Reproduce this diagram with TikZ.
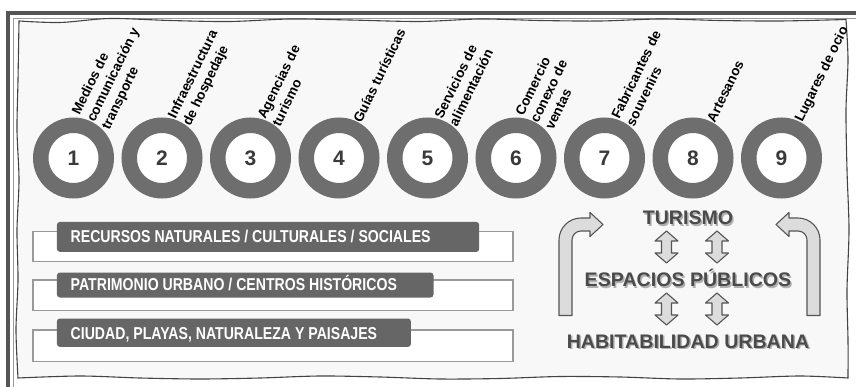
\documentclass[tikz,border=0pt]{standalone}
\usepackage{fontspec}
\setmainfont{Liberation Sans}
\newfontfamily\narrowsf[FakeStretch=0.82]{Liberation Sans}
\definecolor{ringgray}{HTML}{6E6E6E}
\definecolor{numgray}{HTML}{3A3A3A}
\definecolor{barfill}{HTML}{666666}
\definecolor{rectline}{HTML}{9A9A9A}
\definecolor{arrowfill}{HTML}{DCDCDC}
\definecolor{arrowline}{HTML}{555555}
\definecolor{framegray}{HTML}{555555}
\definecolor{thinframe}{HTML}{9A9A9A}
\definecolor{wavyline}{HTML}{444444}
\definecolor{bgfill}{HTML}{F8F8F8}
\definecolor{bigtextgray}{HTML}{4A4A4A}
\definecolor{shadowgray}{HTML}{B0B0B0}
\begin{document}
\begin{tikzpicture}[x=1pt,y=-1pt,
  ringnode/.style={circle, draw=ringgray, line width=15.5pt, fill=white, minimum size=65.5pt, inner sep=0pt, text=numgray, font=\bfseries\fontsize{21}{21}\selectfont},
  labeltext/.style={anchor=west, rotate=64, inner sep=0pt, align=left, text=black, font=\bfseries\fontsize{13.6}{16.5}\selectfont},
  outlinebox/.style={draw=rectline, fill=white, line width=1.2pt, inner sep=0pt, anchor=north west},
  barbox/.style={fill=barfill, rounded corners=3pt, inner sep=0pt, anchor=north west},
  bartext/.style={anchor=base west, inner sep=0pt, text=white, font=\narrowsf\bfseries\fontsize{17.2}{20}\selectfont},
  bigtext/.style={anchor=base, inner sep=0pt, text=bigtextgray, font=\bfseries\fontsize{19.6}{22}\selectfont},
  bigshadow/.style={bigtext, text=shadowgray},
  blockarrow/.style={fill=arrowfill, draw=arrowline, line width=1.1pt, line join=round},
  dblarrow/.pic={\filldraw[blockarrow] (0,-16) -- (11.5,-6) -- (5,-6) -- (5,6) -- (11.5,6) -- (0,16) -- (-11.5,6) -- (-5,6) -- (-5,-6) -- (-11.5,-6) -- cycle;},
  bentarrow/.pic={\filldraw[blockarrow] (559,315.5) -- (559,240) .. controls (559,227.9) and (568.9,218) .. (581,218) -- (590,218) -- (590,212.5) -- (603,224.5) -- (590,236.5) -- (590,231) -- (581,231) .. controls (576,231) and (572,235) .. (572,240) -- (572,315.5) -- cycle;}
]
\useasboundingbox (0,0) rectangle (856,387);
\fill[white] (0,0) rectangle (856,387);
% outer frame
\draw[line width=4pt, framegray] (8,392) -- (8,13) -- (862,13);
\draw[line width=0.8pt, thinframe] (13,392) -- (13,18) -- (862,18);
% wavy panel
\filldraw[fill=bgfill, draw=wavyline, line width=1.1pt]
  plot[smooth, tension=0.5] coordinates {(19,21) (60,22.5) (110,18.5) (170,20.5) (230,21.5) (290,19) (350,20) (420,21.5) (480,19) (540,20.5) (600,21) (660,19) (720,20.5) (780,21) (846,19.5)}
  -- plot[smooth, tension=0.5] coordinates {(846,19.5) (848,60) (846,110) (847,170) (849,230) (847,290) (848,340) (848,378)}
  -- plot[smooth, tension=0.5] coordinates {(848,378) (800,376) (740,378) (680,379) (620,377) (560,376.5) (500,378.5) (440,379) (380,377) (320,376) (260,378) (200,379) (140,378) (80,376) (18,378)}
  -- plot[smooth, tension=0.5] coordinates {(18,378) (16,330) (18,280) (17,230) (19,180) (17,130) (18,80) (19,21)}
  -- cycle;
% circles and labels
\foreach \i/\lab in {1/{Medios de\\comunicación y\\transporte}, 2/{Infraestructura\\de hospedaje}, 3/{Agencias de\\turismo}, 4/{Guías turísticas}, 5/{Servicios de\\alimentación}, 6/{Comercio\\conexo de\\ventas}, 7/{Fabricantes de\\souvenirs}, 8/{Artesanos}, 9/{Lugares de ocio}}{
  \pgfmathsetmacro\cx{73.5+88.5*(\i-1)}
  \node[ringnode] (c\i) at (\cx,158) {\i};
  \node[labeltext] (l\i) at (c\i.64) {\lab};
}
% bars
\node[outlinebox, minimum width=480pt, minimum height=30.3pt] (r1) at (32.3,230.7) {};
\node[barbox, minimum width=422.3pt, minimum height=30pt] (b1) at (56.7,221.7) {};
\node[bartext] (t1) at (70.5,243) {RECURSOS NATURALES / CULTURALES / SOCIALES};
\node[outlinebox, minimum width=480pt, minimum height=30.7pt] (r2) at (32.3,279.3) {};
\node[barbox, minimum width=376.6pt, minimum height=25pt] (b2) at (56.7,272.3) {};
\node[bartext] (t2) at (70.5,290.7) {PATRIMONIO URBANO / CENTROS HISTÓRICOS};
\node[outlinebox, minimum width=480pt, minimum height=31.4pt] (r3) at (32.3,329.3) {};
\node[barbox, minimum width=354pt, minimum height=28.4pt] (b3) at (56.7,318.3) {};
\node[bartext] (t3) at (70.5,339) {CIUDAD, PLAYAS, NATURALEZA Y PAISAJES};
% right block
\node[bigshadow] (tur-s) at (689.5,226.5) {TURISMO};
\node[bigtext] (tur) at (688,225) {TURISMO};
\node[bigshadow] (esp-s) at (689.5,288.2) {ESPACIOS PÚBLICOS};
\node[bigtext] (esp) at (688,286.7) {ESPACIOS PÚBLICOS};
\node[bigshadow] (hab-s) at (689.5,349.8) {HABITABILIDAD URBANA};
\node[bigtext] (hab) at (688,348.3) {HABITABILIDAD URBANA};
\pic (da1) at (666.5,247) {dblarrow};
\pic (da2) at (717,247) {dblarrow};
\pic (da3) at (666.5,309) {dblarrow};
\pic (da4) at (717,309) {dblarrow};
\pic (ba1) at (0,0) {bentarrow};
\pic[xscale=-1] (ba2) at (1379,0) {bentarrow};
\end{tikzpicture}
\end{document}
